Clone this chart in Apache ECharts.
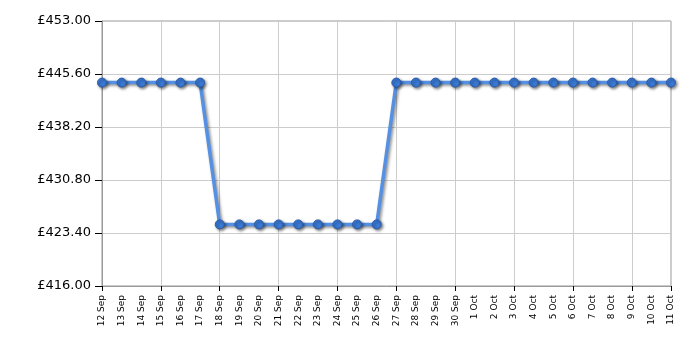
<!DOCTYPE html>
<html><head><meta charset="utf-8">
<script src="https://cdn.jsdelivr.net/npm/echarts@6/dist/echarts.min.js"></script>
<style>html,body{margin:0;padding:0;background:#fff}#c{width:700px;height:350px}</style>
</head><body><div id="c"></div>
<script>
var categories = ['12 Sep','13 Sep','14 Sep','15 Sep','16 Sep','17 Sep','18 Sep','19 Sep','20 Sep','21 Sep','22 Sep','23 Sep','24 Sep','25 Sep','26 Sep','27 Sep','28 Sep','29 Sep','30 Sep','1 Oct','2 Oct','3 Oct','4 Oct','5 Oct','6 Oct','7 Oct','8 Oct','9 Oct','10 Oct','11 Oct'];
var prices = [444.4,444.4,444.4,444.4,444.4,444.4,424.6,424.6,424.6,424.6,424.6,424.6,424.6,424.6,424.6,444.4,444.4,444.4,444.4,444.4,444.4,444.4,444.4,444.4,444.4,444.4,444.4,444.4,444.4,444.4];
var yMin = 416, yMax = 453, yStep = 7.4;

var chart = echarts.init(document.getElementById('c'), null, {renderer:'canvas'});
chart.setOption({
  animation:false,
  grid:{left:102, right:29, top:21, bottom:64, show:true, borderColor:'#999', borderWidth:1},
  xAxis:{
    type:'category', data:categories, boundaryGap:false,
    axisLine:{lineStyle:{color:'#999'}},
    axisTick:{interval:2, length:5, lineStyle:{color:'#000'}},
    splitLine:{show:true, interval:2, lineStyle:{color:'#ccc'}},
    axisLabel:{interval:0, rotate:90, fontSize:9, fontFamily:'DejaVu Sans', color:'#000', margin:9}
  },
  yAxis:{
    type:'value', min:yMin, max:yMax, interval:yStep,
    axisLine:{show:true, lineStyle:{color:'#999'}},
    axisTick:{show:true, length:7, lineStyle:{color:'#000'}},
    splitLine:{lineStyle:{color:'#ccc'}},
    axisLabel:{fontSize:13, fontFamily:'DejaVu Sans', color:'#000', margin:11,
      formatter:function(v){return '£'+v.toFixed(2);}}
  },
  series:[{
    type:'line', data:prices, symbol:'circle', symbolSize:9,
    lineStyle:{color:'#5590e2', width:3.5, shadowColor:'rgba(0,0,0,0.45)', shadowBlur:3, shadowOffsetX:1.5, shadowOffsetY:1.5},
    itemStyle:{color:'#3a7ad6', borderColor:'#2a5aa8', borderWidth:1, shadowColor:'rgba(0,0,0,0.5)', shadowBlur:3, shadowOffsetX:1.5, shadowOffsetY:1.5}
  }]
});
</script></body></html>
